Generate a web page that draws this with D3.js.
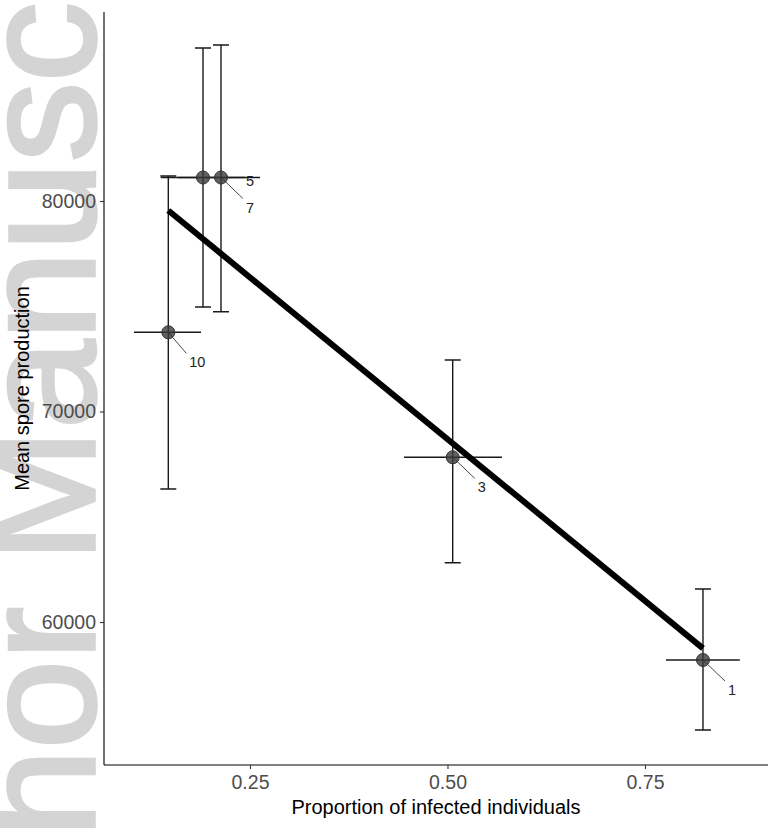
<!DOCTYPE html>
<html>
<head>
<meta charset="utf-8">
<script src="https://cdn.jsdelivr.net/npm/d3@7"></script>
<style>
  html, body { margin: 0; padding: 0; background: #fff; }
  svg { display: block; font-family: "Liberation Sans", Arial, sans-serif; }
</style>
</head>
<body>
<svg id="chart" width="768" height="828"></svg>
<script>
// ---- data ----
const labels   = ["10", "5", "7", "3", "1"];
const propX    = [0.1466, 0.1905, 0.2133, 0.5066, 0.8234];
const propLo   = [0.1032, 0.1370, 0.1590, 0.4450, 0.7766];
const propHi   = [0.1880, 0.2437, 0.2627, 0.5690, 0.8700];
const sporeY   = [73762, 81116, 81116, 67824, 58195];
const sporeLo  = [66318, 74964, 74741, 62817, 54869];
const sporeHi  = [81188, 87268, 87411, 72447, 61568];
const fitX     = [0.1466, 0.8234];
const fitY     = [79550, 58750];
const xTicks   = [0.25, 0.50, 0.75];
const yTicks   = [60000, 70000, 80000];
const watermark = "hor Manusc";

// label leader offsets (style only)
const labelOffsets = [[22, 30], [44, 3], [26, 30], [26, 30], [26, 30]];

const svg = d3.select("#chart");
const W = 768, H = 828;
const m = { left: 104, right: 0, top: 12, bottom: 63 };

// watermark
svg.append("text")
  .attr("transform", "translate(94,838) rotate(-90)")
  .attr("font-size", 160)
  .attr("fill", "#d4d4d4")
  .attr("stroke", "#d4d4d4").attr("stroke-width", 3.5)
  .attr("font-family", "Liberation Sans, Arial, sans-serif")
  .text(watermark);

const x = d3.scaleLinear().domain([0.0652, 0.9057]).range([m.left, W - m.right]);
const y = d3.scaleLinear().domain([53207, 88979]).range([H - m.bottom, m.top]);

const data = labels.map((l, i) => ({
  label: l, x: propX[i], xlo: propLo[i], xhi: propHi[i],
  y: sporeY[i], ylo: sporeLo[i], yhi: sporeHi[i], off: labelOffsets[i]
}));

// axes
const xAxis = svg.append("g")
  .attr("transform", `translate(0,${H - m.bottom})`)
  .call(d3.axisBottom(x).tickValues(xTicks).tickFormat(d3.format(".2f")).tickSize(4).tickPadding(6));
const yAxis = svg.append("g")
  .attr("transform", `translate(${m.left},0)`)
  .call(d3.axisLeft(y).tickValues(yTicks).tickFormat(d3.format("d")).tickSize(4).tickPadding(4));

[xAxis, yAxis].forEach(a => {
  a.select(".domain").attr("stroke", "#000").attr("stroke-width", 1.1);
  a.selectAll(".tick line").attr("stroke", "#333").attr("stroke-width", 1.1);
  a.selectAll(".tick text").attr("fill", "#4d4d4d").attr("font-size", 19.5)
    .attr("font-family", "Liberation Sans, Arial, sans-serif");
});
xAxis.select(".domain").attr("d", `M${m.left},0H${W}`);
yAxis.select(".domain").attr("d", `M0,${m.top}V${H - m.bottom}`);

// axis titles
svg.append("text")
  .attr("x", (m.left + W) / 2).attr("y", 814)
  .attr("text-anchor", "middle").attr("font-size", 20).attr("fill", "#000")
  .text("Proportion of infected individuals");
svg.append("text")
  .attr("transform", `translate(29,${(m.top + H - m.bottom) / 2}) rotate(-90)`)
  .attr("text-anchor", "middle").attr("font-size", 20).attr("fill", "#000")
  .text("Mean spore production");

const g = svg.append("g");
const cap = 8;

// vertical error bars
g.selectAll(".ev").data(data).join("path")
  .attr("d", d => `M${x(d.x)},${y(d.ylo)}V${y(d.yhi)}M${x(d.x) - cap},${y(d.yhi)}H${x(d.x) + cap}M${x(d.x) - cap},${y(d.ylo)}H${x(d.x) + cap}`)
  .attr("stroke", "#1a1a1a").attr("stroke-width", 1.4).attr("fill", "none");
// horizontal error bars
g.selectAll(".eh").data(data).join("line")
  .attr("x1", d => x(d.xlo)).attr("x2", d => x(d.xhi))
  .attr("y1", d => y(d.y)).attr("y2", d => y(d.y))
  .attr("stroke", "#1a1a1a").attr("stroke-width", 1.4);

// points
g.selectAll("circle").data(data).join("circle")
  .attr("cx", d => x(d.x)).attr("cy", d => y(d.y)).attr("r", 6.5)
  .attr("fill", "#3a3a3a").attr("fill-opacity", 0.8)
  .attr("stroke", "#333").attr("stroke-width", 1);

// fit line
g.append("path")
  .datum(fitX.map((v, i) => [v, fitY[i]]))
  .attr("d", d3.line().x(d => x(d[0])).y(d => y(d[1])))
  .attr("stroke", "#000").attr("stroke-width", 6).attr("fill", "none");

// leader lines + labels
g.selectAll(".lead").data(data.filter(d => d.label !== "5")).join("line")
  .attr("x1", d => x(d.x)).attr("y1", d => y(d.y))
  .attr("x2", d => x(d.x) + d.off[0] - 4).attr("y2", d => y(d.y) + d.off[1] - 9)
  .attr("stroke", "#333").attr("stroke-width", 0.9);
g.selectAll(".lab").data(data).join("text")
  .attr("x", d => x(d.x) + d.off[0] - 1).attr("y", d => y(d.y) + d.off[1] + 5)
  .attr("font-size", 14.5).attr("fill", "#222")
  .text(d => d.label);
</script>
</body>
</html>
